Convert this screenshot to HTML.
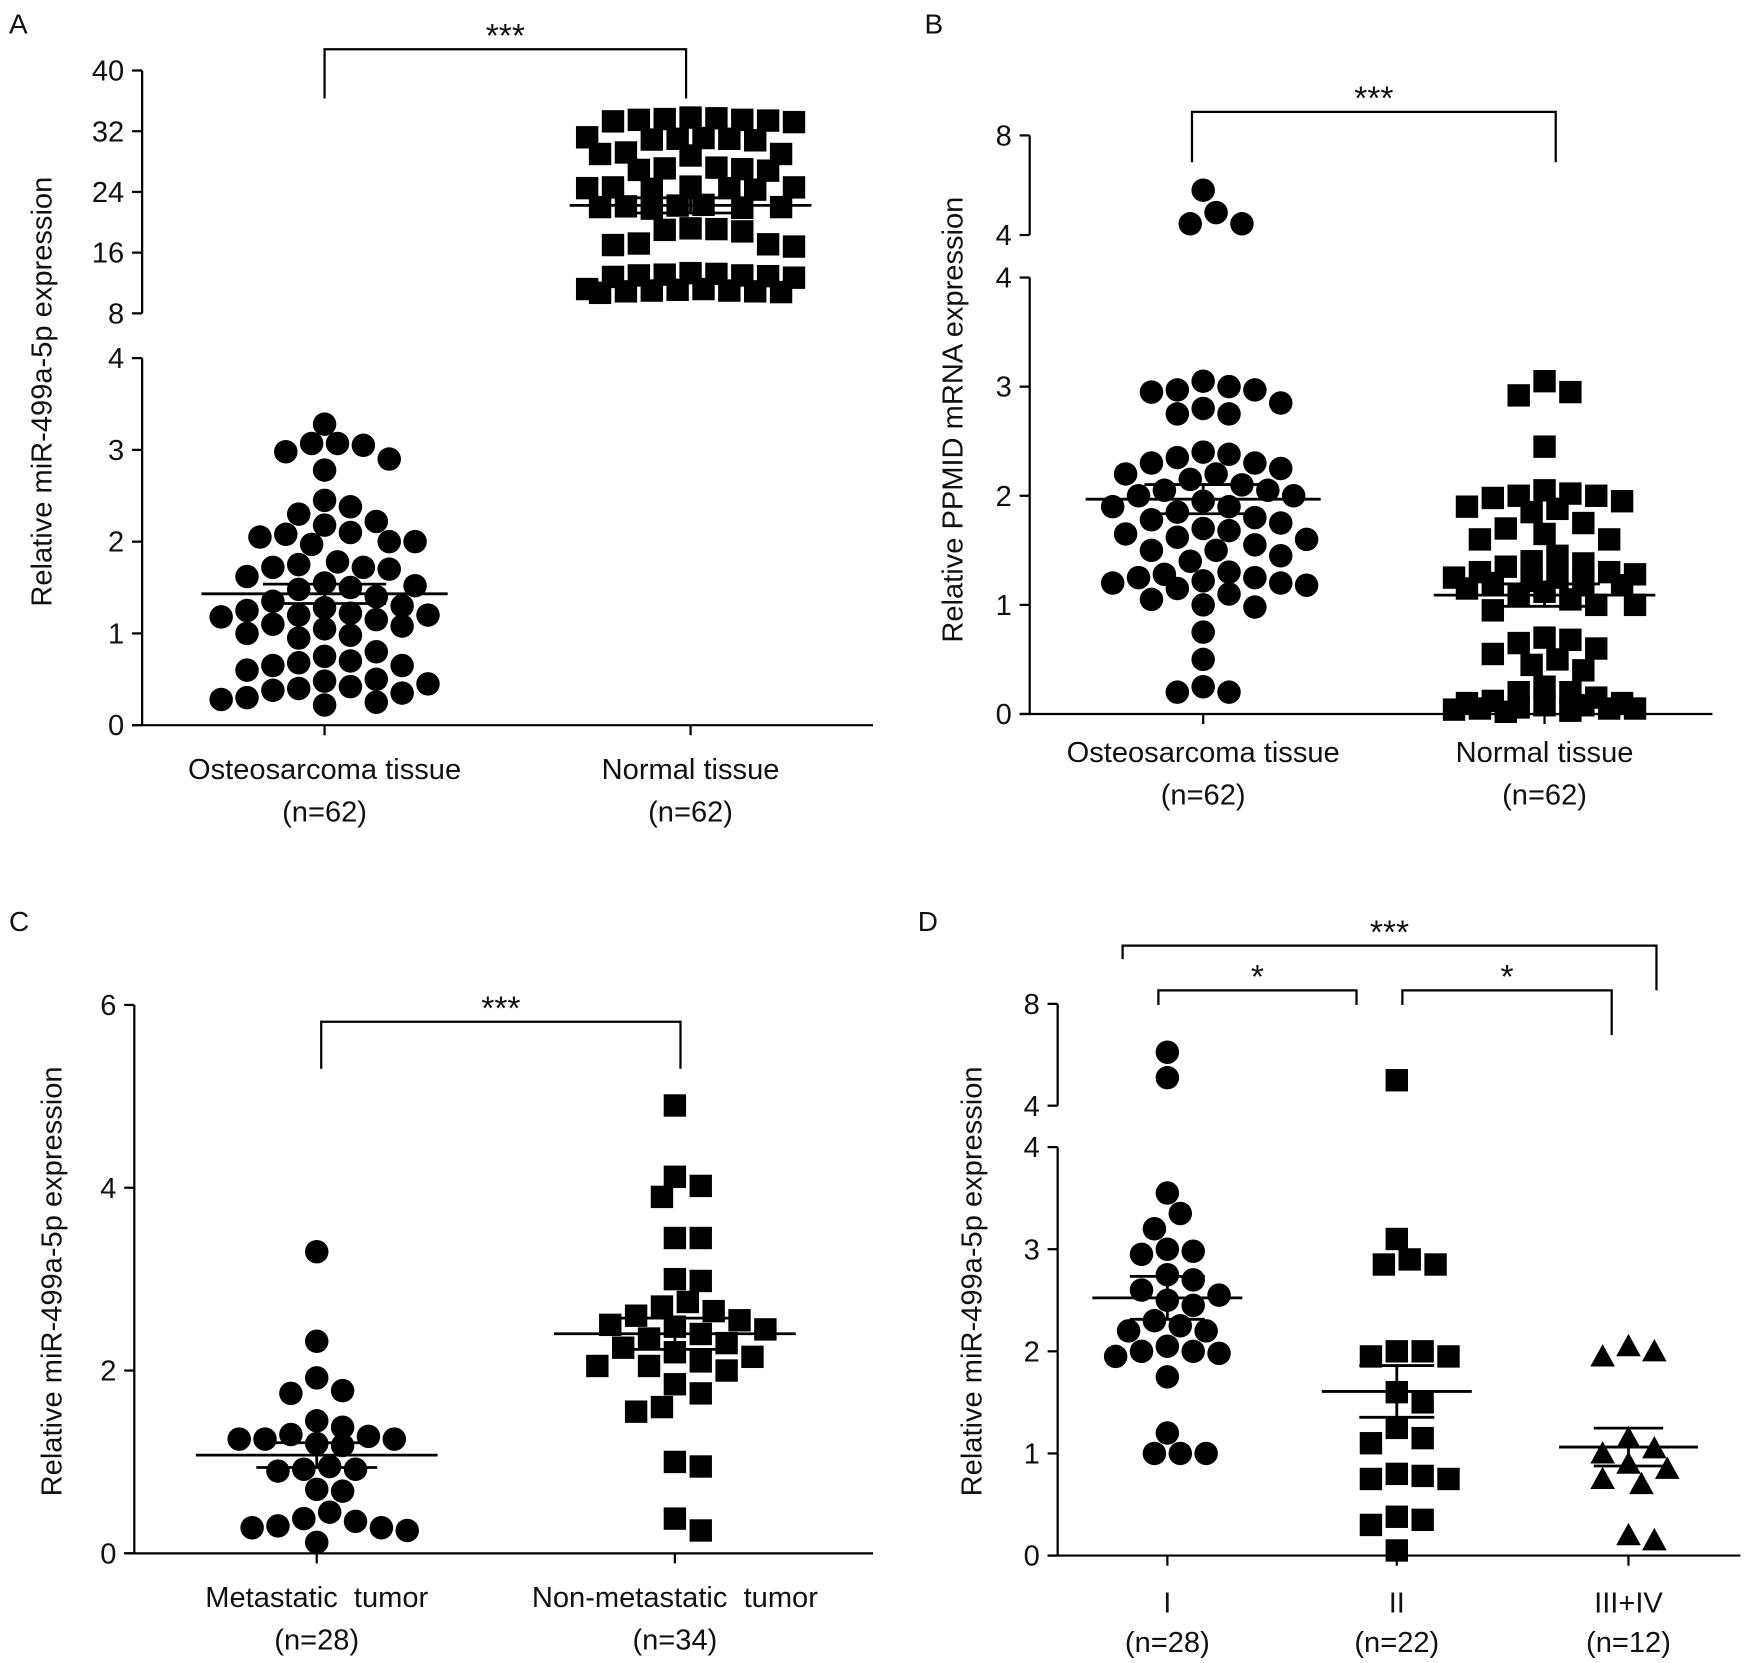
<!DOCTYPE html>
<html><head><meta charset="utf-8"><style>
html,body{margin:0;padding:0;background:#fff}
svg{display:block;font-family:"Liberation Sans",Arial,sans-serif}
</style></head><body>
<svg id="fig" width="1746" height="1663" viewBox="0 0 1560 1486" preserveAspectRatio="none" xmlns="http://www.w3.org/2000/svg"></svg>
<script>
// ---------- data ----------
const catsA = ["Osteosarcoma tissue", "Normal tissue"];
const nA = ["(n=62)", "(n=62)"];
const valsA1 = [3.28,3.07,3.05,3.07,2.98,2.9,2.78,2.45,2.38,2.3,2.22,2.18,2.1,2.08,2.05,2.0,1.97,2.0,1.78,1.75,1.72,1.72,1.7,1.62,1.55,1.52,1.5,1.48,1.4,1.35,1.3,1.28,1.25,1.22,1.2,1.2,1.18,1.15,1.1,1.08,1.05,1.0,0.98,0.95,0.8,0.75,0.7,0.68,0.65,0.65,0.6,0.5,0.48,0.45,0.42,0.4,0.38,0.35,0.3,0.28,0.25,0.22];
const valsA2 = [33.8,33.6,33.5,33.4,33.2,33.5,33.7,33.3,31,31.2,30.8,31,31.1,30.9,29,29.2,28.8,29,27,27.2,26.8,27.1,26.9,24.6,24.4,24.5,24.7,24.3,24.5,24.6,22,22.2,21.8,22.1,21.9,22,22.3,19,19.2,18.8,19.1,17,17.2,16.8,17.1,13.2,13,12.8,13.1,12.9,13.3,12.7,13,11,10.8,11.2,10.9,11.1,10.7,11,10.9,11.2];
const ticksA = [0,1,2,3,4,8,16,24,32,40];

const catsB = ["Osteosarcoma tissue", "Normal tissue"];
const nB = ["(n=62)", "(n=62)"];
const valsB1 = [5.8,4.9,4.45,4.45,3.05,3.0,2.97,2.97,2.95,2.85,2.8,2.75,2.75,2.4,2.38,2.35,2.3,2.3,2.25,2.2,2.2,2.15,2.1,2.05,2.05,2.0,2.0,1.95,1.9,1.9,1.85,1.8,1.78,1.75,1.7,1.68,1.65,1.62,1.6,1.55,1.5,1.5,1.45,1.4,1.3,1.28,1.25,1.25,1.22,1.2,1.2,1.18,1.15,1.1,1.05,1.0,0.98,0.75,0.5,0.25,0.2,0.2];
const valsB2 = [3.05,2.95,2.92,2.45,2.05,2.02,2.0,2.0,1.98,1.95,1.9,1.88,1.85,1.75,1.7,1.65,1.6,1.6,1.45,1.4,1.38,1.35,1.3,1.3,1.28,1.25,1.25,1.22,1.2,1.2,1.18,1.15,1.12,1.1,1.05,1.0,1.0,0.95,0.7,0.68,0.65,0.6,0.55,0.5,0.45,0.4,0.25,0.2,0.2,0.15,0.12,0.1,0.1,0.08,0.08,0.06,0.05,0.05,0.05,0.04,0.03,0.02];
const ticksB = [0,1,2,3,4,4,8];

const catsC = ["Metastatic  tumor", "Non-metastatic  tumor"];
const nC = ["(n=28)", "(n=34)"];
const valsC1 = [3.3,2.32,1.92,1.78,1.75,1.45,1.38,1.3,1.28,1.25,1.25,1.25,1.2,1.18,0.95,0.92,0.92,0.9,0.7,0.68,0.45,0.38,0.35,0.3,0.28,0.28,0.25,0.12];
const valsC2 = [4.9,4.12,4.02,3.9,3.45,3.45,3.0,2.98,2.75,2.7,2.65,2.6,2.55,2.5,2.48,2.45,2.4,2.35,2.3,2.25,2.2,2.15,2.1,2.05,2.05,2.0,1.85,1.75,1.6,1.55,1.0,0.95,0.38,0.25];
const ticksC = [0,2,4,6];

const catsD = ["I", "II", "III+IV"];
const nD = ["(n=28)", "(n=22)", "(n=12)"];
const valsD1 = [6.1,5.1,3.55,3.35,3.2,3.0,2.98,2.95,2.75,2.7,2.6,2.55,2.5,2.45,2.3,2.25,2.2,2.2,2.05,2.0,2.0,1.98,1.95,1.75,1.2,1.0,1.0,1.0];
const valsD2 = [5.0,3.1,2.9,2.85,2.85,2.0,2.0,1.95,1.95,1.6,1.5,1.25,1.15,1.1,0.8,0.78,0.75,0.75,0.38,0.35,0.3,0.05];
const valsD3 = [2.05,2.0,1.95,1.15,1.05,1.0,0.9,0.85,0.75,0.7,0.2,0.15];
const ticksD = [0,1,2,3,4,4,8];

// ---------- helpers ----------
const NS = "http://www.w3.org/2000/svg";
const svg = document.getElementById("fig");
function mk(tag, attrs, parent) {
  const e = document.createElementNS(NS, tag);
  for (const k in attrs) e.setAttribute(k, attrs[k]);
  (parent || svg).appendChild(e);
  return e;
}
function txt(s, x, y, size, parent, anchor) {
  const t = mk("text", {x: x, y: y, "font-size": size, "text-anchor": anchor || "middle", fill: "#111"}, parent);
  t.textContent = s;
  return t;
}
function makeScale(seg) {
  return function(v) {
    if (seg.upMin === undefined || v <= seg.lowMax) return seg.y0 + (seg.yLowTop - seg.y0) * v / seg.lowMax;
    return seg.yUpBot + (seg.yUpTop - seg.yUpBot) * (v - seg.upMin) / (seg.upMax - seg.upMin);
  };
}
function swarm(vals, cx, yf, d, maxHW) {
  const sorted = vals.slice().sort((a, b) => b - a);
  const placed = [];
  const step = d * 0.55;
  const maxK = Math.floor(maxHW / step);
  sorted.forEach(v => {
    const y = yf(v);
    let best = null, bestD = -1;
    for (let k = 0; k <= 2 * maxK; k++) {
      const off = (k === 0) ? 0 : Math.ceil(k / 2) * step * (k % 2 ? 1 : -1);
      const x = cx + off;
      let md = Infinity;
      placed.forEach(p => { md = Math.min(md, Math.hypot(p.x - x, p.y - y)); });
      if (md >= d * 0.98) { best = x; bestD = Infinity; break; }
      if (md > bestD) { bestD = md; best = x; }
    }
    placed.push({x: best, y, v});
  });
  return placed;
}
function stats(vals) {
  const m = vals.reduce((a, b) => a + b, 0) / vals.length;
  const sd = Math.sqrt(vals.reduce((a, b) => a + (b - m) * (b - m), 0) / (vals.length - 1));
  return {m, se: sd / Math.sqrt(vals.length)};
}
function marker(shape, x, y, g) {
  if (shape === "circle") return mk("circle", {cx: x, cy: y, r: 10.5, fill: "#000"}, g);
  if (shape === "square") return mk("rect", {x: x - 10, y: y - 10, width: 20, height: 20, fill: "#000"}, g);
  return mk("polygon", {points: `${x},${y-11} ${x+11},${y+9} ${x-11},${y+9}`, fill: "#000"}, g);
}
function line(x1, y1, x2, y2, g, w) {
  return mk("line", {x1, y1, x2, y2, stroke: "#000", "stroke-width": w || 2}, g);
}

function panel(p) {
  const g = mk("g", {});
  
  
  const yf = makeScale(p.seg);
  const pl = mk("text", {x: p.letter[1], y: p.letter[2], "font-size": 25, fill: "#111"}, g);
  pl.textContent = p.letter[0];
  
  
  const ax = mk("g", {}, g);
  
  
  const s = p.seg;
  line(p.axX, s.y0, p.axX, s.yLowTop, ax);
  if (s.upMin !== undefined) line(p.axX, s.yUpBot, p.axX, s.yUpTop, ax);
  p.ticks.forEach((t, i) => {
    let y;
    if (s.upMin !== undefined && i >= p.lowTickCount) y = s.yUpBot + (s.yUpTop - s.yUpBot) * (t - s.upMin) / (s.upMax - s.upMin);
    else y = yf(t);
    line(p.axX - 9, y, p.axX, y, ax);
    const tl = txt(String(t), p.axX - 16, y + 9, 26, ax, "end");
    
    
  });
  const yt = txt(p.ytitle, 0, 0, 26, g);
  yt.setAttribute("transform", `translate(${p.ytx},${p.yty}) rotate(-90)`);
  
  
  const xa = mk("g", {}, g);
  
  
  line(p.axX - 9, s.y0, p.axEnd, s.y0, xa);
  p.cats.forEach((c, i) => {
    const cx = p.cx[i];
    line(cx, s.y0, cx, s.y0 + 9, xa);
    const l1 = txt(c, cx, p.lab1, 26, xa);
    
    
    l1.style.whiteSpace = "pre";
    const l2 = txt(p.ns[i], cx, p.lab2, 26, xa);
    
    
  });
  p.series.forEach((vals, i) => {
    const sg = mk("g", {}, g);
    
    
    const pts = swarm(vals, p.cx[i], yf, 21, p.swarmHW[i]);
    pts.forEach(pt => {
      const m = marker(p.shapes[i], pt.x, pt.y, sg);
      
      
    });
    const st = stats(vals);
    const hw = p.meanHW[i];
    const ml = line(p.cx[i] - hw, yf(st.m), p.cx[i] + hw, yf(st.m), sg, 2.5);
    
    
    const sh = hw * 0.5;
    [st.m - st.se, st.m + st.se].forEach(v => {
      const el = line(p.cx[i] - sh, yf(v), p.cx[i] + sh, yf(v), sg, 2.5);
      
      
    });
    line(p.cx[i], yf(st.m - st.se), p.cx[i], yf(st.m + st.se), sg, 2.5);
  });
  p.brackets.forEach(b => {
    const bg = mk("g", {}, g);
    
    
    mk("polyline", {points: `${b[0]},${b[1]} ${b[0]},${b[2]} ${b[3]},${b[2]} ${b[3]},${b[4]}`, fill: "none", stroke: "#000", "stroke-width": 2}, bg);
    txt(b[5], (b[0] + b[3]) / 2, b[2] - 2, 30, bg);
  });
}

panel({name: "panel-a", letter: ["A", 8, 30], axX: 127, axEnd: 780,
  seg: {lowMax: 4, y0: 648, yLowTop: 320, upMin: 8, upMax: 40, yUpBot: 280, yUpTop: 63},
  ticks: ticksA, lowTickCount: 5, ytitle: "Relative miR-499a-5p expression", ytx: 46, yty: 350,
  cats: catsA, ns: nA, cx: [290, 617], lab1: 696, lab2: 734,
  series: [valsA1, valsA2], shapes: ["circle", "square"], meanHW: [110, 108], swarmHW: [95, 95],
  brackets: [[290, 88, 44, 613, 88, "***"]]});

panel({name: "panel-b", letter: ["B", 826, 30], axX: 920, axEnd: 1530,
  seg: {lowMax: 4, y0: 638, yLowTop: 248, upMin: 4, upMax: 8, yUpBot: 210, yUpTop: 121},
  ticks: ticksB, lowTickCount: 5, ytitle: "Relative PPMID mRNA expression", ytx: 860, yty: 375,
  cats: catsB, ns: nB, cx: [1075, 1380], lab1: 681, lab2: 719,
  series: [valsB1, valsB2], shapes: ["circle", "square"], meanHW: [105, 99], swarmHW: [95, 85],
  brackets: [[1065, 145, 100, 1390, 145, "***"]]});

panel({name: "panel-c", letter: ["C", 8, 832], axX: 120, axEnd: 780,
  seg: {lowMax: 6, y0: 1388, yLowTop: 898},
  ticks: ticksC, lowTickCount: 4, ytitle: "Relative miR-499a-5p expression", ytx: 55, yty: 1145,
  cats: catsC, ns: nC, cx: [283, 603], lab1: 1436, lab2: 1474,
  series: [valsC1, valsC2], shapes: ["circle", "square"], meanHW: [108, 108], swarmHW: [90, 90],
  brackets: [[287, 955, 913, 608, 955, "***"]]});

panel({name: "panel-d", letter: ["D", 820, 832], axX: 945, axEnd: 1555,
  seg: {lowMax: 4, y0: 1390, yLowTop: 1025, upMin: 4, upMax: 8, yUpBot: 988, yUpTop: 897},
  ticks: ticksD, lowTickCount: 5, ytitle: "Relative miR-499a-5p expression", ytx: 877, yty: 1145,
  cats: catsD, ns: nD, cx: [1043, 1248, 1455], lab1: 1441, lab2: 1476,
  series: [valsD1, valsD2, valsD3], shapes: ["circle", "square", "triangle"], meanHW: [67, 67, 62], swarmHW: [55, 55, 50],
  brackets: [[1003, 857, 845, 1480, 885, "***"], [1035, 898, 885, 1212, 898, "*"], [1253, 898, 885, 1440, 925, "*"]]});
</script>
</body></html>
